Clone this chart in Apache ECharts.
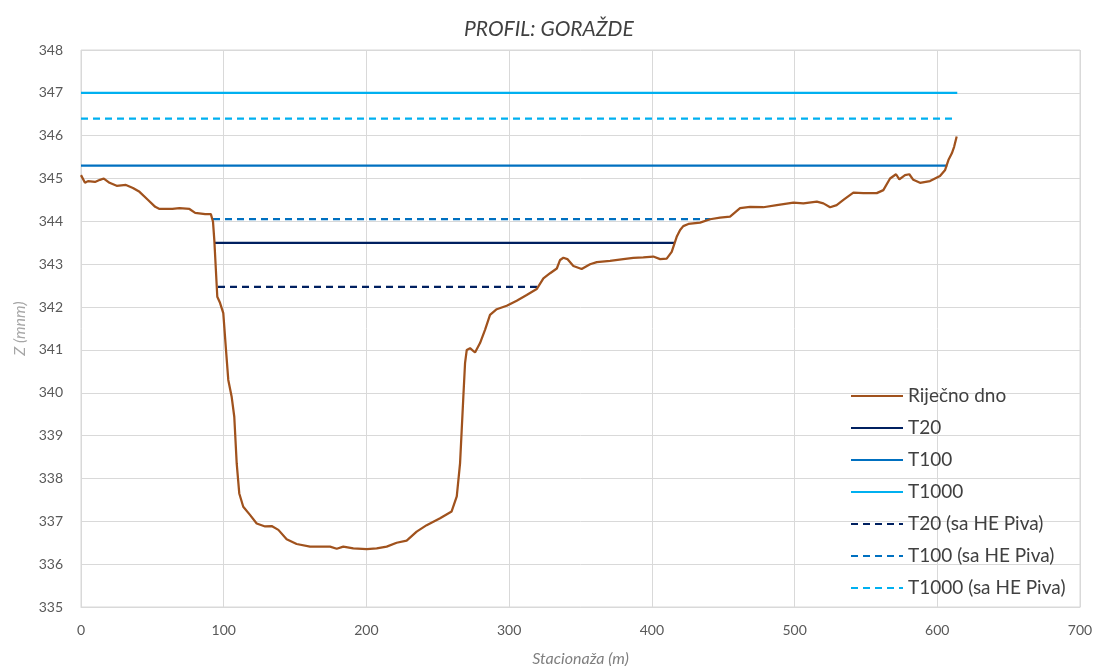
<!DOCTYPE html>
<html>
<head>
<meta charset="utf-8">
<title>PROFIL: GORAŽDE</title>
<script src="https://cdn.jsdelivr.net/npm/echarts@6/dist/echarts.min.js"></script>
<style>
  html, body { margin: 0; padding: 0; background: #ffffff; }
  #chart { width: 1103px; height: 666px; }
</style>
</head>
<body>
<div id="chart"></div>
<script>
// River bed cross-section: stationing (m) and bed elevation (m a.s.l.)
const bedStation = [
  0, 2.8, 4.9, 9.8, 13.3, 16, 20, 25, 31.5, 36.4, 41, 47, 52, 55, 64, 69, 76, 80, 87, 91,
  92.5, 93.4, 95.5, 97.4, 99.7, 101.6, 103.2, 105.6, 107.4, 109.1, 110.9, 113.7, 118.4,
  123.1, 129, 133.6, 138.3, 144.1, 151.1, 160.5, 174.5, 179.2, 183.8, 190.8, 200.2, 207.2,
  214.2, 221.2, 228.2, 235.2, 242.2, 251.6, 259.7, 263.3, 265.6, 267.9, 269.1, 270.3,
  272.6, 276.1, 279.6, 283.1, 286.6, 291.3, 298.3, 305.3, 312.3, 319.3, 324, 328.7, 333.4,
  335.7, 338, 340.8, 345, 350.8, 356.7, 361.4, 370.7, 380, 387, 394, 401, 405.8, 410.4,
  413.9, 417.4, 419.8, 422, 425.6, 433.8, 440.8, 447.8, 454.8, 461.8, 468.8, 478.1, 487.5,
  499.2, 506.2, 515.6, 520.2, 524.9, 529.5, 534.2, 541.2, 548.2, 557.6, 562.2, 566.9,
  571.1, 573.4, 577.4, 580.4, 583.2, 587.9, 594.9, 601.9, 605.5, 607.8, 610.2, 611.8, 613.6
];
const bedElevation = [
  345.08, 344.9, 344.94, 344.92, 344.97, 345.0, 344.9, 344.83, 344.85, 344.78, 344.69, 344.5,
  344.34, 344.29, 344.29, 344.31, 344.29, 344.2, 344.17, 344.17,
  343.99, 343.57, 342.24, 342.1, 341.86, 341.0, 340.3, 339.9, 339.44, 338.35, 337.65, 337.34,
  337.15, 336.95, 336.88, 336.89, 336.8, 336.58, 336.47, 336.41, 336.41, 336.36, 336.41,
  336.37, 336.35, 336.37, 336.41, 336.5, 336.55, 336.76, 336.91, 337.07, 337.23, 337.58,
  338.35, 339.9, 340.69, 341.0, 341.04, 340.94, 341.16, 341.47, 341.82, 341.95, 342.03,
  342.15, 342.28, 342.42, 342.67, 342.79, 342.9, 343.1, 343.15, 343.12, 342.96, 342.89,
  343.0, 343.05, 343.08, 343.12, 343.15, 343.16, 343.18, 343.12, 343.13, 343.29, 343.64,
  343.8, 343.89, 343.94, 343.97, 344.05, 344.09, 344.11, 344.31, 344.34, 344.33, 344.38,
  344.44, 344.42, 344.46, 344.42, 344.33, 344.38, 344.5, 344.67, 344.66, 344.66, 344.73,
  345.0, 345.1, 344.98, 345.08, 345.1, 344.97, 344.9, 344.94, 345.06, 345.2, 345.43,
  345.59, 345.74, 345.98
];

// Water levels: name, elevation, start and end stationing
const levelNames = ['T20', 'T100', 'T1000', 'T20 (sa HE Piva)', 'T100 (sa HE Piva)', 'T1000 (sa HE Piva)'];
const levelElevation = [343.5, 345.3, 347.0, 342.47, 344.05, 346.4];
const levelFrom = [93.5, 0, 0, 96, 92.5, 0];
const levelTo = [416, 607, 614, 321, 441, 612];

// Axis ticks
const xTicks = [0, 100, 200, 300, 400, 500, 600, 700];
const yTicks = [335, 336, 337, 338, 339, 340, 341, 342, 343, 344, 345, 346, 347, 348];

const bedName = 'Riječno dno';
const bedColor = '#A0521D';
const levelColors = ['#002060', '#0070C0', '#00B0F0', '#002060', '#0070C0', '#00B0F0'];
const levelDashed = [false, false, false, true, true, true];

const font = 'Lato, "Open Sans", "DejaVu Sans", sans-serif';

const series = [{
  name: bedName,
  type: 'line',
  data: bedStation.map((s, i) => [s, bedElevation[i]]),
  symbol: 'none',
  showSymbol: false,
  lineStyle: { color: bedColor, width: 2.25 },
  itemStyle: { color: bedColor },
  z: 5
}];
levelNames.forEach((name, i) => {
  series.push({
    name: name,
    type: 'line',
    data: [[levelFrom[i], levelElevation[i]], [levelTo[i], levelElevation[i]]],
    symbol: 'none',
    showSymbol: false,
    lineStyle: {
      color: levelColors[i],
      width: 2.25,
      type: levelDashed[i] ? [7, 5] : 'solid'
    },
    itemStyle: { color: levelColors[i] },
    z: 3
  });
});

const chart = echarts.init(document.getElementById('chart'), null, { renderer: 'canvas' });
chart.setOption({
  animation: false,
  backgroundColor: '#ffffff',
  title: {
    text: 'PROFIL: GORAŽDE',
    left: 459,
    top: 14,
    textStyle: { fontFamily: font, fontStyle: 'italic', fontWeight: 'normal', fontSize: 21, color: '#404040' }
  },
  grid: {
    left: 81, right: 23, top: 50, bottom: 59,
    outerBoundsMode: 'none',
    containLabel: false,
    show: true, borderColor: '#D9D9D9', borderWidth: 1
  },
  legend: {
    orient: 'vertical',
    left: 850,
    top: 386,
    padding: 0,
    itemWidth: 52,
    itemHeight: 14,
    itemGap: 12,
    // line-only legend keys, no marker dot
    itemStyle: { color: 'rgba(0,0,0,0)', borderWidth: 0, opacity: 0 },
    data: [bedName].concat(levelNames),
    textStyle: { fontFamily: font, fontSize: 19, color: '#404040', lineHeight: 20 }
  },
  xAxis: {
    type: 'value',
    min: xTicks[0],
    max: xTicks[xTicks.length - 1],
    interval: 100,
    name: 'Stacionaža (m)',
    nameLocation: 'middle',
    nameGap: 44,
    nameTextStyle: { fontFamily: font, fontStyle: 'italic', fontSize: 16, color: '#7F7F7F' },
    axisLine: { show: true, lineStyle: { color: '#D9D9D9' } },
    axisTick: { show: false },
    axisLabel: { margin: 16, fontFamily: font, fontSize: 14, color: '#595959' },
    splitLine: { show: true, lineStyle: { color: '#D9D9D9', width: 1 } }
  },
  yAxis: {
    type: 'value',
    min: yTicks[0],
    max: yTicks[yTicks.length - 1],
    interval: 1,
    name: 'Z (mnm)',
    nameLocation: 'middle',
    nameGap: 49,
    nameTextStyle: { fontFamily: font, fontStyle: 'italic', fontSize: 16, color: '#A6A6A6' },
    axisLine: { show: false },
    axisTick: { show: false },
    axisLabel: { margin: 18, fontFamily: font, fontSize: 14, color: '#595959' },
    splitLine: { show: true, lineStyle: { color: '#D9D9D9', width: 1 } }
  },
  series: series
});
</script>
</body>
</html>
